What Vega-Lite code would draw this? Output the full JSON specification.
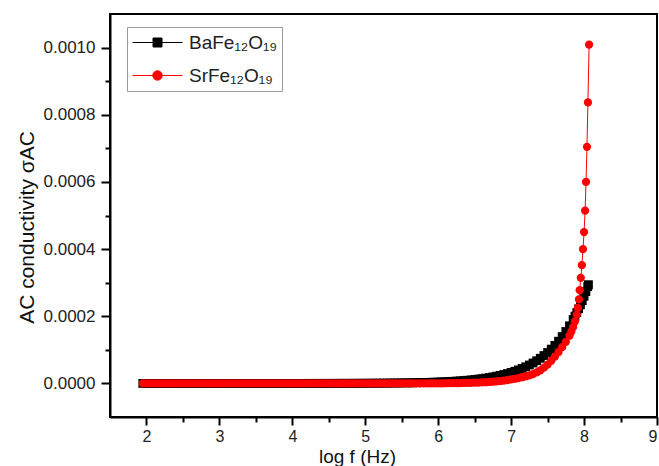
{
  "$schema": "https://vega.github.io/schema/vega-lite/v6.json",
  "width": 547,
  "height": 403,
  "autosize": {"type": "none"},
  "padding": {"left": 110, "top": 14, "right": 2, "bottom": 49},
  "background": "white",
  "config": {
    "font": "Liberation Sans",
    "view": {"stroke": "black", "strokeWidth": 2},
    "axis": {
      "domainColor": "black",
      "domainWidth": 2,
      "tickColor": "black",
      "tickWidth": 2,
      "grid": false,
      "labelColor": "#222",
      "labelFont": "Liberation Sans",
      "labelFontSize": 17,
      "labelOverlap": false,
      "titleFont": "Liberation Sans",
      "titleFontSize": 21,
      "titleFontWeight": "normal",
      "titleColor": "#111"
    }
  },
  "datasets": {
    "ac": [
      {"s":"Ba","x":1.95,"y":9.3e-10},{"s":"Ba","x":2.00,"y":1.0e-9},{"s":"Ba","x":2.05,"y":1.1e-9},{"s":"Ba","x":2.10,"y":1.3e-9},{"s":"Ba","x":2.15,"y":1.4e-9},{"s":"Ba","x":2.20,"y":1.6e-9},{"s":"Ba","x":2.25,"y":1.8e-9},{"s":"Ba","x":2.30,"y":2.0e-9},{"s":"Ba","x":2.35,"y":2.2e-9},{"s":"Ba","x":2.40,"y":2.4e-9},
      {"s":"Ba","x":2.45,"y":2.7e-9},{"s":"Ba","x":2.50,"y":2.9e-9},{"s":"Ba","x":2.55,"y":3.3e-9},{"s":"Ba","x":2.60,"y":3.6e-9},{"s":"Ba","x":2.65,"y":4.0e-9},{"s":"Ba","x":2.70,"y":4.5e-9},{"s":"Ba","x":2.75,"y":5.0e-9},{"s":"Ba","x":2.80,"y":5.5e-9},{"s":"Ba","x":2.85,"y":6.1e-9},{"s":"Ba","x":2.90,"y":6.7e-9},
      {"s":"Ba","x":2.95,"y":7.5e-9},{"s":"Ba","x":3.00,"y":8.2e-9},{"s":"Ba","x":3.05,"y":9.1e-9},{"s":"Ba","x":3.10,"y":1.0e-8},{"s":"Ba","x":3.15,"y":1.1e-8},{"s":"Ba","x":3.20,"y":1.3e-8},{"s":"Ba","x":3.25,"y":1.4e-8},{"s":"Ba","x":3.30,"y":1.5e-8},{"s":"Ba","x":3.35,"y":1.7e-8},{"s":"Ba","x":3.40,"y":1.9e-8},
      {"s":"Ba","x":3.45,"y":2.1e-8},{"s":"Ba","x":3.50,"y":2.3e-8},{"s":"Ba","x":3.55,"y":2.6e-8},{"s":"Ba","x":3.60,"y":2.9e-8},{"s":"Ba","x":3.65,"y":3.2e-8},{"s":"Ba","x":3.70,"y":3.5e-8},{"s":"Ba","x":3.75,"y":3.9e-8},{"s":"Ba","x":3.80,"y":4.3e-8},{"s":"Ba","x":3.85,"y":4.8e-8},{"s":"Ba","x":3.90,"y":5.3e-8},
      {"s":"Ba","x":3.95,"y":5.9e-8},{"s":"Ba","x":4.00,"y":6.5e-8},{"s":"Ba","x":4.05,"y":7.2e-8},{"s":"Ba","x":4.10,"y":8.0e-8},{"s":"Ba","x":4.15,"y":8.9e-8},{"s":"Ba","x":4.20,"y":9.8e-8},{"s":"Ba","x":4.25,"y":1.09e-7},{"s":"Ba","x":4.30,"y":1.21e-7},{"s":"Ba","x":4.35,"y":1.34e-7},{"s":"Ba","x":4.40,"y":1.49e-7},
      {"s":"Ba","x":4.45,"y":1.65e-7},{"s":"Ba","x":4.50,"y":1.83e-7},{"s":"Ba","x":4.55,"y":2.03e-7},{"s":"Ba","x":4.60,"y":2.25e-7},{"s":"Ba","x":4.65,"y":2.49e-7},{"s":"Ba","x":4.70,"y":2.77e-7},{"s":"Ba","x":4.75,"y":3.07e-7},{"s":"Ba","x":4.80,"y":3.40e-7},{"s":"Ba","x":4.85,"y":3.77e-7},{"s":"Ba","x":4.90,"y":4.19e-7},
      {"s":"Ba","x":4.95,"y":4.64e-7},{"s":"Ba","x":5.00,"y":5.2e-7},{"s":"Ba","x":5.05,"y":5.8e-7},{"s":"Ba","x":5.10,"y":6.4e-7},{"s":"Ba","x":5.15,"y":7.1e-7},{"s":"Ba","x":5.20,"y":7.9e-7},{"s":"Ba","x":5.25,"y":8.7e-7},{"s":"Ba","x":5.30,"y":9.7e-7},{"s":"Ba","x":5.35,"y":1.07e-6},{"s":"Ba","x":5.40,"y":1.19e-6},
      {"s":"Ba","x":5.45,"y":1.32e-6},{"s":"Ba","x":5.50,"y":1.46e-6},{"s":"Ba","x":5.55,"y":1.62e-6},{"s":"Ba","x":5.60,"y":1.80e-6},{"s":"Ba","x":5.65,"y":1.99e-6},{"s":"Ba","x":5.70,"y":2.21e-6},{"s":"Ba","x":5.75,"y":2.45e-6},{"s":"Ba","x":5.80,"y":2.72e-6},{"s":"Ba","x":5.85,"y":3.01e-6},{"s":"Ba","x":5.90,"y":3.34e-6},
      {"s":"Ba","x":5.95,"y":3.71e-6},{"s":"Ba","x":6.00,"y":4.11e-6},{"s":"Ba","x":6.05,"y":4.56e-6},{"s":"Ba","x":6.10,"y":5.06e-6},{"s":"Ba","x":6.15,"y":5.61e-6},{"s":"Ba","x":6.20,"y":6.23e-6},{"s":"Ba","x":6.25,"y":6.90e-6},{"s":"Ba","x":6.30,"y":7.66e-6},{"s":"Ba","x":6.35,"y":8.49e-6},{"s":"Ba","x":6.40,"y":9.42e-6},
      {"s":"Ba","x":6.45,"y":1.045e-5},{"s":"Ba","x":6.50,"y":1.159e-5},{"s":"Ba","x":6.55,"y":1.286e-5},{"s":"Ba","x":6.60,"y":1.426e-5},{"s":"Ba","x":6.65,"y":1.582e-5},{"s":"Ba","x":6.70,"y":1.754e-5},{"s":"Ba","x":6.75,"y":1.946e-5},{"s":"Ba","x":6.80,"y":2.158e-5},{"s":"Ba","x":6.85,"y":2.394e-5},{"s":"Ba","x":6.90,"y":2.655e-5},
      {"s":"Ba","x":6.95,"y":2.945e-5},{"s":"Ba","x":7.00,"y":3.267e-5},{"s":"Ba","x":7.05,"y":3.623e-5},{"s":"Ba","x":7.10,"y":4.019e-5},{"s":"Ba","x":7.15,"y":4.458e-5},{"s":"Ba","x":7.20,"y":4.945e-5},{"s":"Ba","x":7.25,"y":5.484e-5},{"s":"Ba","x":7.30,"y":6.083e-5},{"s":"Ba","x":7.35,"y":6.747e-5},{"s":"Ba","x":7.40,"y":7.484e-5},
      {"s":"Ba","x":7.45,"y":8.301e-5},{"s":"Ba","x":7.50,"y":9.207e-5},{"s":"Ba","x":7.55,"y":1.0212e-4},{"s":"Ba","x":7.60,"y":1.1327e-4},{"s":"Ba","x":7.65,"y":1.2564e-4},{"s":"Ba","x":7.70,"y":1.3936e-4},{"s":"Ba","x":7.75,"y":1.5457e-4},{"s":"Ba","x":7.80,"y":1.7144e-4},{"s":"Ba","x":7.85,"y":1.9016e-4},{"s":"Ba","x":7.875,"y":2.003e-4},
      {"s":"Ba","x":7.90,"y":2.1092e-4},{"s":"Ba","x":7.925,"y":2.2215e-4},{"s":"Ba","x":7.95,"y":2.3395e-4},{"s":"Ba","x":7.975,"y":2.464e-4},{"s":"Ba","x":8.00,"y":2.5949e-4},{"s":"Ba","x":8.025,"y":2.733e-4},{"s":"Ba","x":8.05,"y":2.8782e-4},{"s":"Ba","x":8.06,"y":2.94e-4},

      {"s":"Sr","x":1.95,"y":1.1e-11},{"s":"Sr","x":2.00,"y":1.2e-11},{"s":"Sr","x":2.05,"y":1.35e-11},{"s":"Sr","x":2.10,"y":1.5e-11},{"s":"Sr","x":2.15,"y":1.7e-11},{"s":"Sr","x":2.20,"y":1.9e-11},{"s":"Sr","x":2.25,"y":2.1e-11},{"s":"Sr","x":2.30,"y":2.4e-11},{"s":"Sr","x":2.35,"y":2.7e-11},{"s":"Sr","x":2.40,"y":3.0e-11},
      {"s":"Sr","x":2.45,"y":3.4e-11},{"s":"Sr","x":2.50,"y":3.8e-11},{"s":"Sr","x":2.55,"y":4.3e-11},{"s":"Sr","x":2.60,"y":4.8e-11},{"s":"Sr","x":2.65,"y":5.4e-11},{"s":"Sr","x":2.70,"y":6.0e-11},{"s":"Sr","x":2.75,"y":6.7e-11},{"s":"Sr","x":2.80,"y":7.6e-11},{"s":"Sr","x":2.85,"y":8.5e-11},{"s":"Sr","x":2.90,"y":9.5e-11},
      {"s":"Sr","x":2.95,"y":1.07e-10},{"s":"Sr","x":3.00,"y":1.2e-10},{"s":"Sr","x":3.05,"y":1.35e-10},{"s":"Sr","x":3.10,"y":1.5e-10},{"s":"Sr","x":3.15,"y":1.7e-10},{"s":"Sr","x":3.20,"y":1.9e-10},{"s":"Sr","x":3.25,"y":2.1e-10},{"s":"Sr","x":3.30,"y":2.4e-10},{"s":"Sr","x":3.35,"y":2.7e-10},{"s":"Sr","x":3.40,"y":3.0e-10},
      {"s":"Sr","x":3.45,"y":3.4e-10},{"s":"Sr","x":3.50,"y":3.8e-10},{"s":"Sr","x":3.55,"y":4.3e-10},{"s":"Sr","x":3.60,"y":4.8e-10},{"s":"Sr","x":3.65,"y":5.4e-10},{"s":"Sr","x":3.70,"y":6.0e-10},{"s":"Sr","x":3.75,"y":6.7e-10},{"s":"Sr","x":3.80,"y":7.6e-10},{"s":"Sr","x":3.85,"y":8.5e-10},{"s":"Sr","x":3.90,"y":9.5e-10},
      {"s":"Sr","x":3.95,"y":1.07e-9},{"s":"Sr","x":4.00,"y":1.2e-9},{"s":"Sr","x":4.05,"y":1.35e-9},{"s":"Sr","x":4.10,"y":1.5e-9},{"s":"Sr","x":4.15,"y":1.7e-9},{"s":"Sr","x":4.20,"y":1.9e-9},{"s":"Sr","x":4.25,"y":2.1e-9},{"s":"Sr","x":4.30,"y":2.4e-9},{"s":"Sr","x":4.35,"y":2.7e-9},{"s":"Sr","x":4.40,"y":3.0e-9},
      {"s":"Sr","x":4.45,"y":3.4e-9},{"s":"Sr","x":4.50,"y":3.8e-9},{"s":"Sr","x":4.55,"y":4.3e-9},{"s":"Sr","x":4.60,"y":4.8e-9},{"s":"Sr","x":4.65,"y":5.4e-9},{"s":"Sr","x":4.70,"y":6.0e-9},{"s":"Sr","x":4.75,"y":6.7e-9},{"s":"Sr","x":4.80,"y":7.6e-9},{"s":"Sr","x":4.85,"y":8.5e-9},{"s":"Sr","x":4.90,"y":9.5e-9},
      {"s":"Sr","x":4.95,"y":1.07e-8},{"s":"Sr","x":5.00,"y":1.2e-8},{"s":"Sr","x":5.05,"y":1.42e-8},{"s":"Sr","x":5.10,"y":1.69e-8},{"s":"Sr","x":5.15,"y":2.01e-8},{"s":"Sr","x":5.20,"y":2.39e-8},{"s":"Sr","x":5.25,"y":2.84e-8},{"s":"Sr","x":5.30,"y":3.38e-8},{"s":"Sr","x":5.35,"y":4.02e-8},{"s":"Sr","x":5.40,"y":4.78e-8},
      {"s":"Sr","x":5.45,"y":5.68e-8},{"s":"Sr","x":5.50,"y":6.75e-8},{"s":"Sr","x":5.55,"y":8.0e-8},{"s":"Sr","x":5.60,"y":9.5e-8},{"s":"Sr","x":5.65,"y":1.13e-7},{"s":"Sr","x":5.70,"y":1.35e-7},{"s":"Sr","x":5.75,"y":1.60e-7},{"s":"Sr","x":5.80,"y":1.90e-7},{"s":"Sr","x":5.85,"y":2.26e-7},{"s":"Sr","x":5.90,"y":2.69e-7},
      {"s":"Sr","x":5.95,"y":3.20e-7},{"s":"Sr","x":6.00,"y":3.80e-7},{"s":"Sr","x":6.05,"y":4.5e-7},{"s":"Sr","x":6.10,"y":5.4e-7},{"s":"Sr","x":6.15,"y":6.4e-7},{"s":"Sr","x":6.20,"y":7.6e-7},{"s":"Sr","x":6.25,"y":9.0e-7},{"s":"Sr","x":6.30,"y":1.07e-6},{"s":"Sr","x":6.35,"y":1.27e-6},{"s":"Sr","x":6.40,"y":1.51e-6},
      {"s":"Sr","x":6.45,"y":1.80e-6},{"s":"Sr","x":6.50,"y":2.14e-6},{"s":"Sr","x":6.55,"y":2.54e-6},{"s":"Sr","x":6.60,"y":3.02e-6},{"s":"Sr","x":6.65,"y":3.59e-6},{"s":"Sr","x":6.70,"y":4.27e-6},{"s":"Sr","x":6.75,"y":5.07e-6},{"s":"Sr","x":6.80,"y":6.0e-6},{"s":"Sr","x":6.85,"y":7.2e-6},{"s":"Sr","x":6.90,"y":8.5e-6},
      {"s":"Sr","x":6.95,"y":1.01e-5},{"s":"Sr","x":7.00,"y":1.20e-5},{"s":"Sr","x":7.05,"y":1.39e-5},{"s":"Sr","x":7.10,"y":1.60e-5},{"s":"Sr","x":7.15,"y":1.84e-5},{"s":"Sr","x":7.20,"y":2.10e-5},{"s":"Sr","x":7.25,"y":2.42e-5},{"s":"Sr","x":7.30,"y":2.80e-5},{"s":"Sr","x":7.35,"y":3.30e-5},{"s":"Sr","x":7.40,"y":3.90e-5},
      {"s":"Sr","x":7.45,"y":4.70e-5},{"s":"Sr","x":7.50,"y":5.60e-5},{"s":"Sr","x":7.55,"y":6.75e-5},{"s":"Sr","x":7.60,"y":8.00e-5},{"s":"Sr","x":7.65,"y":9.35e-5},{"s":"Sr","x":7.70,"y":1.08e-4},{"s":"Sr","x":7.75,"y":1.24e-4},{"s":"Sr","x":7.80,"y":1.42e-4},{"s":"Sr","x":7.825,"y":1.54e-4},{"s":"Sr","x":7.85,"y":1.68e-4},
      {"s":"Sr","x":7.875,"y":1.85e-4},{"s":"Sr","x":7.90,"y":2.05e-4},{"s":"Sr","x":7.915,"y":2.25e-4},{"s":"Sr","x":7.93,"y":2.50e-4},{"s":"Sr","x":7.94,"y":2.776e-4},{"s":"Sr","x":7.955,"y":3.143e-4},{"s":"Sr","x":7.97,"y":3.522e-4},{"s":"Sr","x":7.985,"y":4.0e-4},{"s":"Sr","x":8.00,"y":4.507e-4},{"s":"Sr","x":8.014,"y":5.143e-4},
      {"s":"Sr","x":8.027,"y":6.0e-4},{"s":"Sr","x":8.04,"y":7.045e-4},{"s":"Sr","x":8.053,"y":8.367e-4},{"s":"Sr","x":8.069,"y":1.009e-3}
    ]
  },
  "data": {"name": "ac"},
  "encoding": {
    "x": {
      "field": "x",
      "type": "quantitative",
      "scale": {"domain": [1.5, 9], "nice": false, "zero": false},
      "axis": {
        "title": "log f (Hz)",
        "values": [2, 2.5, 3, 3.5, 4, 4.5, 5, 5.5, 6, 6.5, 7, 7.5, 8, 8.5, 9],
        "labelExpr": "datum.value % 1 === 0 ? format(datum.value, 'd') : ''",
        "tickSize": {"condition": {"test": "datum.value % 1 !== 0", "value": 5}, "value": 8},
        "labelFontSize": 16,
        "labelPadding": 3,
        "titleFontSize": 19,
        "titleBaseline": "alphabetic",
        "titleX": 247,
        "titleY": 45
      }
    },
    "y": {
      "field": "y",
      "type": "quantitative",
      "scale": {"domain": [-0.0001, 0.0011], "nice": false, "zero": false},
      "axis": {
        "title": "AC conductivity σAC",
        "values": [0, 0.0001, 0.0002, 0.0003, 0.0004, 0.0005, 0.0006, 0.0007, 0.0008, 0.0009, 0.001],
        "labelExpr": "round(datum.value * 10000) % 2 === 0 ? format(datum.value, '.4f') : ''",
        "tickSize": {"condition": {"test": "round(datum.value * 10000) % 2 !== 0", "value": 5}, "value": 9},
        "labelPadding": 6,
        "titlePadding": 6,
        "titleY": 213
      }
    },
    "color": {
      "field": "s",
      "type": "nominal",
      "scale": {"domain": ["Ba", "Sr"], "range": ["#000000", "#ff0000"]},
      "legend": {
        "title": null,
        "orient": "none",
        "legendX": 17,
        "legendY": 13,
        "labelExpr": "datum.label === 'Ba' ? 'BaFe₁₂O₁₉' : 'SrFe₁₂O₁₉'",
        "labelFont": "Liberation Sans",
        "labelFontSize": 19,
        "labelColor": "#222",
        "strokeColor": "#999",
        "fillColor": "white",
        "padding": 5,
        "symbolSize": 400,
        "symbolStrokeWidth": 1,
        "symbolOffset": 15,
        "labelOffset": 21,
        "rowPadding": 12,
        "encode": {
          "symbols": {
            "update": {
              "shape": {"signal": "datum.value === 'Ba' ? 'M-2.5,0H2.5M-0.45,-0.45H0.45V0.45H-0.45Z' : 'M-2.5,0H2.5M-0.47,0A0.47,0.47,0,1,1,0.47,0A0.47,0.47,0,1,1,-0.47,0Z'"},
              "fill": {"scale": "color", "field": "value"},
              "stroke": {"scale": "color", "field": "value"},
              "opacity": {"value": 1}
            }
          }
        }
      }
    }
  },
  "layer": [
    {
      "mark": {"type": "line", "strokeWidth": 1, "clip": true}
    },
    {
      "transform": [{"filter": "datum.s === 'Ba'"}],
      "mark": {"type": "point", "shape": "square", "filled": true, "opacity": 1, "size": 78, "clip": true}
    },
    {
      "transform": [{"filter": "datum.s === 'Sr'"}],
      "mark": {"type": "point", "shape": "circle", "filled": true, "opacity": 1, "size": 68, "clip": true}
    }
  ]
}
